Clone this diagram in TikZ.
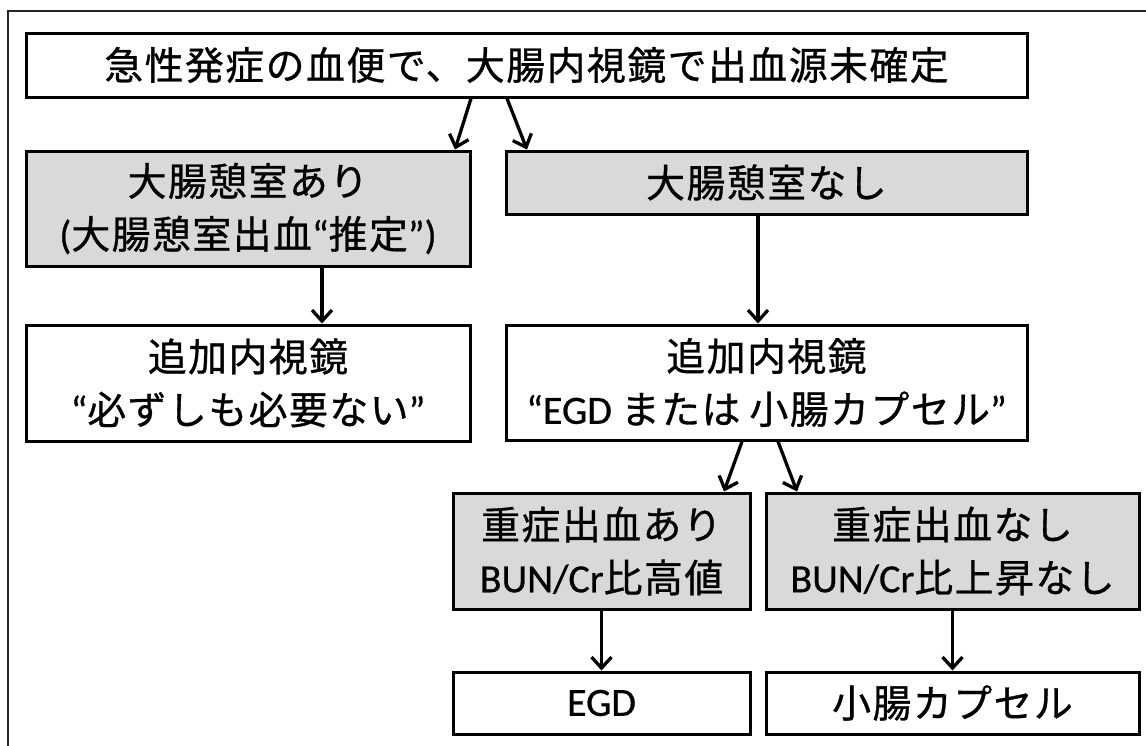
\documentclass[tikz,border=0pt]{standalone}
\usepackage{fontspec}
\setmainfont[FakeBold=0.6]{Carlito}
\newfontfamily\jp[Scale=0.97,LetterSpace=4,FakeBold=0.8]{Noto Sans CJK JP}
\usetikzlibrary{arrows.meta}
\newcommand\lt[1]{{\rmfamily #1}}
\definecolor{boxgray}{HTML}{D9D9D9}
\begin{document}
\begin{tikzpicture}[x=1pt,y=-1pt,
  box/.style={draw=black, line width=3pt, align=center, inner sep=0pt,
    font=\jp\fontsize{40}{53}\selectfont},
  graybox/.style={box, fill=boxgray},
  arr/.style={line width=3.3pt, -{Straight Barb[length=11pt,width=20pt]}}]
\useasboundingbox (0,0) rectangle (1146,745);
\clip (0,0) rectangle (1146,745);
\fill[white] (0,0) rectangle (1146,745);
\draw[line width=2.4pt, black!85] (8,11) rectangle (1160,760);

\node[box, minimum width=1001pt, minimum height=64pt] (top) at (526.5,65)
  {急性発症の血便で、大腸内視鏡で出血源未確定};
\node[graybox, minimum width=444pt, minimum height=115pt] (b2L) at (248,208.5)
  {大腸憩室あり\\\lt{(}大腸憩室出血\lt{“}推定\lt{”)}};
\node[graybox, minimum width=521pt, minimum height=63pt] (b2R) at (766.5,182.5)
  {大腸憩室なし};
\node[box, minimum width=444pt, minimum height=116pt] (b3L) at (248,383)
  {追加内視鏡\\\lt{“}必ずしも必要ない\lt{”}};
\node[box, minimum width=521pt, minimum height=115pt] (b3R) at (766.5,382.5)
  {追加内視鏡\\\lt{“EGD }または\lt{ }小腸カプセル\lt{”}};
\node[graybox, minimum width=297pt, minimum height=116pt] (b4L) at (601.5,551)
  {重症出血あり\\\lt{BUN/Cr}比高値};
\node[graybox, minimum width=373pt, minimum height=116pt] (b4R) at (952.5,551)
  {重症出血なし\\\lt{BUN/Cr}比上昇なし};
\node[box, minimum width=297pt, minimum height=62pt] (b5L) at (601.5,703)
  {\lt{EGD}};
\node[box, minimum width=373pt, minimum height=62pt] (b5R) at (952.5,703)
  {小腸カプセル};

\draw[arr] ([xshift=-55.5pt]top.south) -- ([xshift=207pt]b2L.north);
\draw[arr] ([xshift=-19.5pt]top.south) -- ([xshift=-239.5pt]b2R.north);
\draw[arr] ([xshift=74pt]b2L.south) -- ([xshift=74pt]b3L.north);
\draw[arr] ([xshift=-8.5pt]b2R.south) -- ([xshift=-8.5pt]b3R.north);
\draw[arr] ([xshift=-24.5pt]b3R.south) -- ([xshift=122.5pt]b4L.north);
\draw[arr] ([xshift=11.5pt]b3R.south) -- ([xshift=-155.5pt]b4R.north);
\draw[arr] (b4L.south) -- (b5L.north);
\draw[arr] (b4R.south) -- (b5R.north);
\end{tikzpicture}
\end{document}
